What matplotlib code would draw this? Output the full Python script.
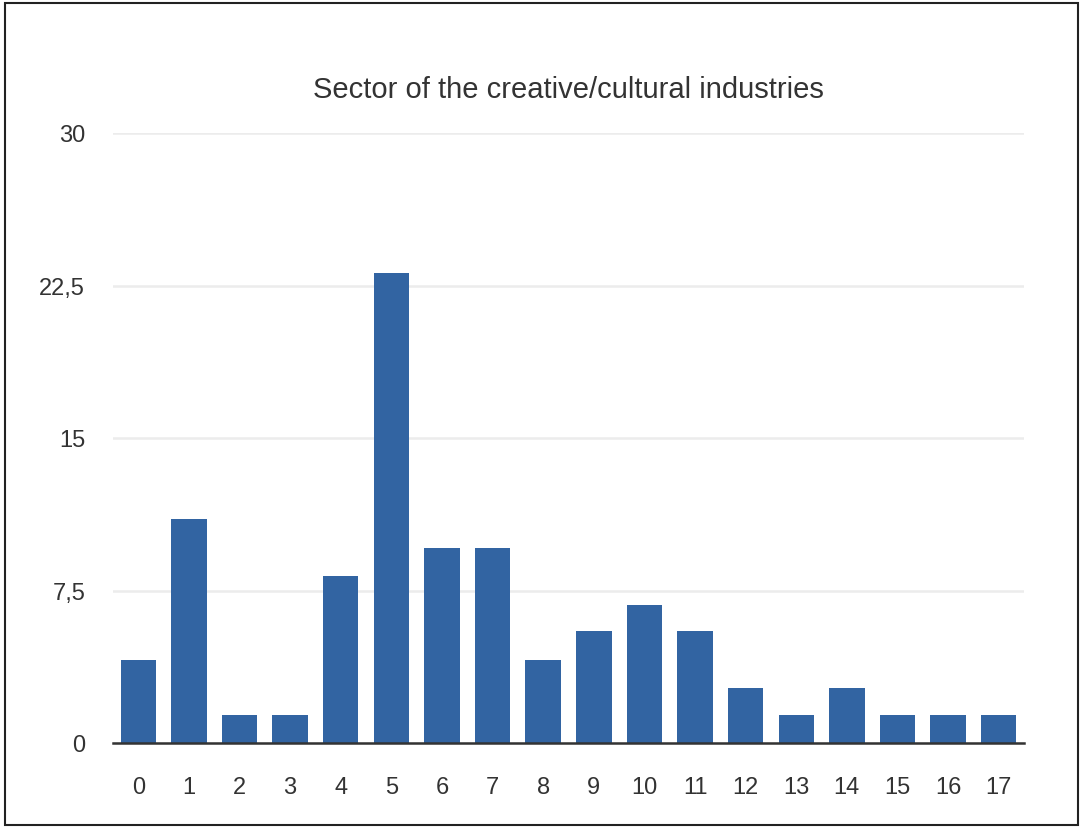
import matplotlib
matplotlib.use("Agg")

import matplotlib.pyplot as plt
from matplotlib.patches import Rectangle

plt.rcParams["font.family"] = ["Liberation Sans", "DejaVu Sans"]

TITLE = "Sector of the creative/cultural industries"
categories = [str(i) for i in range(18)]
shares = [4.1, 11.0, 1.4, 1.4, 8.2, 23.1, 9.6, 9.6, 4.1,
          5.5, 6.8, 5.5, 2.7, 1.4, 2.7, 1.4, 1.4, 1.4]
y_ticks = [0, 7.5, 15, 22.5, 30]
y_tick_labels = ["0", "7,5", "15", "22,5", "30"]

BAR_COLOR = "#3264a2"
TEXT_COLOR = "#333333"

fig = plt.figure(figsize=(10.85, 8.29), dpi=100)
ax = fig.add_axes([113 / 1085, 1 - 744 / 829, (1024 - 113) / 1085, (744 - 134) / 829])

x = list(range(len(categories)))
ax.bar(x, shares, width=0.7, color=BAR_COLOR, zorder=3)

ax.set_xlim(-0.5, len(categories) - 0.5)
ax.set_ylim(0, 30)
ax.set_yticks(y_ticks)
ax.set_yticklabels(y_tick_labels)
ax.set_xticks(x)
ax.set_xticklabels(categories)
ax.tick_params(axis="both", length=0, labelsize=17, colors=TEXT_COLOR)
ax.tick_params(axis="y", pad=20)
ax.tick_params(axis="x", pad=24)

ax.grid(axis="y", color="#ececec", linewidth=1.8, zorder=0)
ax.set_axisbelow(True)
for side in ("top", "right", "left"):
    ax.spines[side].set_visible(False)
ax.spines["bottom"].set_color("#333333")
ax.spines["bottom"].set_linewidth(1.8)
ax.spines["bottom"].set_zorder(4)

ax.set_title(TITLE, fontsize=21, color=TEXT_COLOR, pad=26)

# thin frame around the whole figure
fig.patches.append(Rectangle((5 / 1085, 3 / 829), 1073 / 1085, 822 / 829,
                             transform=fig.transFigure, fill=False,
                             edgecolor="#222222", linewidth=1.5))

fig.savefig("out.png", dpi=100)
